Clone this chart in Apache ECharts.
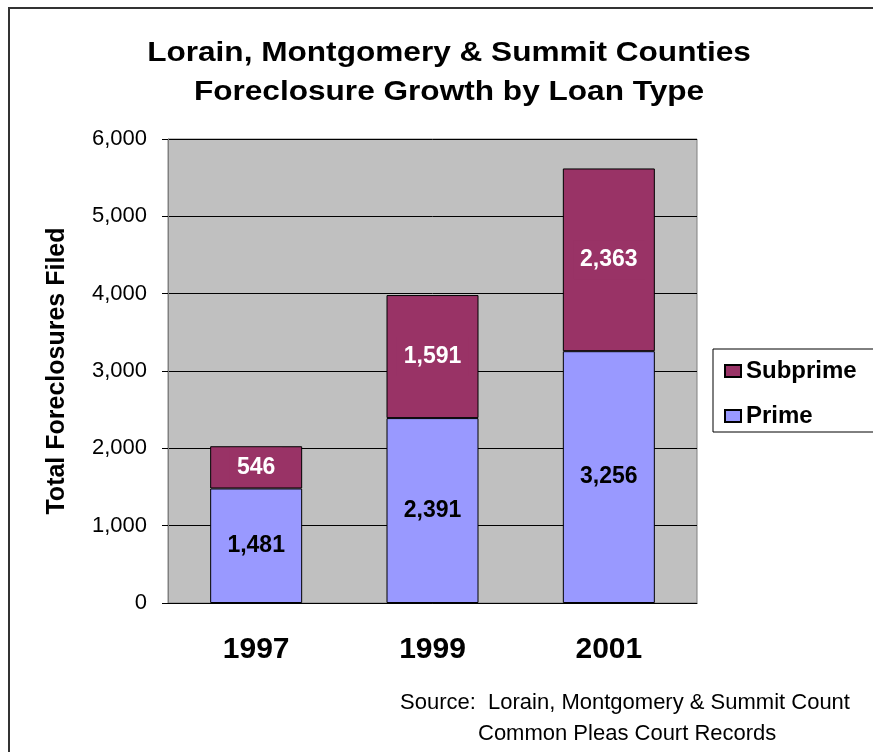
<!DOCTYPE html>
<html lang="en">
<head>
    <meta charset="UTF-8">
    <title>Foreclosure Growth by Loan Type</title>
    <script src="https://cdn.jsdelivr.net/npm/echarts@6/dist/echarts.min.js"></script>
    <style>
        html, body { margin: 0; padding: 0; background: #fff; }
        #main { width: 873px; height: 752px; }
    </style>
</head>
<body>
    <div id="main"></div>
    <script>
        var years = ['1997', '1999', '2001'];
        var prime = [1481, 2391, 3256];
        var subprime = [546, 1591, 2363];
        var yTicks = [0, 1000, 2000, 3000, 4000, 5000, 6000];
        var titleLines = ['Lorain, Montgomery & Summit Counties', 'Foreclosure Growth by Loan Type'];
        var sourceLines = ['Source:  Lorain, Montgomery & Summit Count', 'Common Pleas Court Records'];

        var font = 'Arial, "Liberation Sans", sans-serif';
        var fmt = p => p.value.toLocaleString('en-US');

        var myChart = echarts.init(document.getElementById('main'));

        var option = {
            backgroundColor: '#fff',
            textStyle: { fontFamily: font },
            animation: false,
            legend: {
                data: ['Subprime', 'Prime'],
                orient: 'vertical',
                left: 724,
                top: 359,
                padding: 0,
                itemWidth: 16,
                itemHeight: 12,
                itemGap: 21,
                icon: 'rect',
                textStyle: { fontSize: 24, fontWeight: 'bold', color: '#000', fontFamily: font }
            },
            grid: { left: 168, right: 176, top: 139, bottom: 149, show: true, backgroundColor: '#c0c0c0', borderColor: '#808080', borderWidth: 1 },
            xAxis: {
                type: 'category',
                data: years,
                axisLine: { lineStyle: { color: '#000' } },
                axisTick: { length: 6, lineStyle: { color: '#000' } },
                axisLabel: { margin: 32, fontSize: 30, fontWeight: 'bold', color: '#000', fontFamily: font }
            },
            yAxis: {
                type: 'value',
                min: yTicks[0],
                max: yTicks[yTicks.length - 1],
                interval: 1000,
                name: 'Total Foreclosures Filed',
                nameLocation: 'middle',
                nameGap: 98,
                nameRotate: 90,
                nameTextStyle: { fontSize: 25, fontWeight: 'bold', color: '#000', fontFamily: font },
                axisLine: { show: true, lineStyle: { color: '#808080' } },
                axisTick: { show: true, length: 6, lineStyle: { color: '#000' } },
                splitLine: { lineStyle: { color: '#000', width: 1 } },
                axisLabel: {
                    margin: 21, fontSize: 22, color: '#000', fontFamily: font,
                    formatter: v => v.toLocaleString('en-US')
                }
            },
            series: [
                {
                    name: 'Prime',
                    type: 'bar',
                    stack: 'total',
                    data: prime,
                    barWidth: 92,
                    itemStyle: { color: '#9999ff', borderColor: '#000', borderWidth: 1 },
                    label: { show: true, position: 'inside', formatter: fmt, fontSize: 23, fontWeight: 'bold', color: '#000', fontFamily: font }
                },
                {
                    name: 'Subprime',
                    type: 'bar',
                    stack: 'total',
                    data: subprime,
                    barWidth: 92,
                    itemStyle: { color: '#993366', borderColor: '#000', borderWidth: 1 },
                    label: {
                        show: true, position: 'inside', formatter: fmt, fontSize: 23, fontWeight: 'bold', color: '#fff', fontFamily: font,
                        backgroundColor: '#993366', padding: [14, 7, 2, 7]
                    }
                }
            ],
            graphic: [
                {
                    type: 'rect',
                    silent: true,
                    z: -10,
                    shape: { x: 9, y: 8, width: 900, height: 800 },
                    style: { fill: 'none', stroke: '#333', lineWidth: 2 }
                },
                {
                    type: 'rect',
                    silent: true,
                    z: -5,
                    shape: { x: 713, y: 349, width: 200, height: 83 },
                    style: { fill: '#fff', stroke: '#000', lineWidth: 1 }
                },
                {
                    type: 'text',
                    x: 449, y: 54, scaleX: 1.17,
                    style: { text: titleLines[0], align: 'center', verticalAlign: 'middle', fontSize: 27, fontWeight: 'bold', fill: '#000', fontFamily: font }
                },
                {
                    type: 'text',
                    x: 449, y: 93, scaleX: 1.17,
                    style: { text: titleLines[1], align: 'center', verticalAlign: 'middle', fontSize: 27, fontWeight: 'bold', fill: '#000', fontFamily: font }
                },
                {
                    type: 'text',
                    x: 400, y: 703,
                    style: { text: sourceLines[0], verticalAlign: 'middle', fontSize: 22, fill: '#000', fontFamily: font }
                },
                {
                    type: 'text',
                    x: 478, y: 734,
                    style: { text: sourceLines[1], verticalAlign: 'middle', fontSize: 22, fill: '#000', fontFamily: font }
                }
            ]
        };

        myChart.setOption(option);
    </script>
</body>
</html>
